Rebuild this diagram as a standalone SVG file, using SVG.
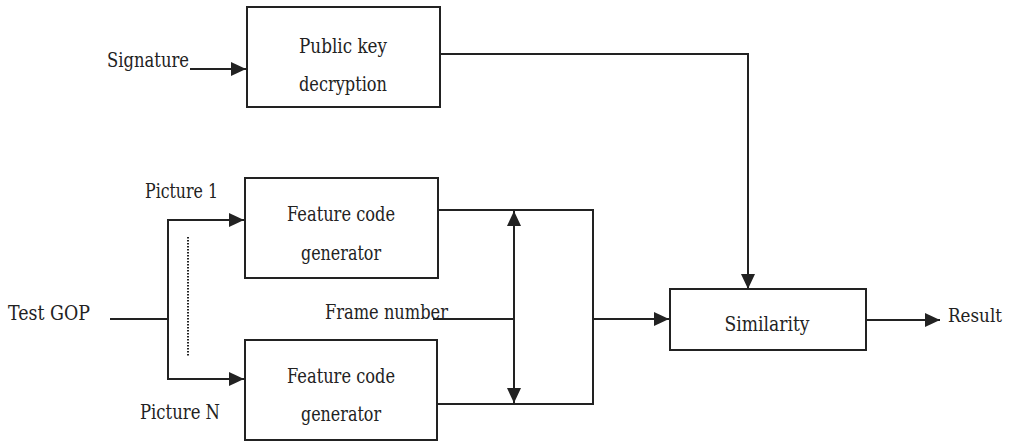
<svg xmlns="http://www.w3.org/2000/svg" width="1011" height="442" viewBox="0 0 1011 442">
<style>
.box{fill:#fff;stroke:#222;stroke-width:2}
.ln{fill:none;stroke:#222;stroke-width:2}
.t{font-family:'DejaVu Serif','Liberation Serif',serif;font-size:20px;fill:#222}
.c{text-anchor:middle}
</style>
<defs>
<marker id="ah" viewBox="0 0 15 14" refX="15" refY="7" markerWidth="15" markerHeight="14" markerUnits="userSpaceOnUse" orient="auto-start-reverse">
<path d="M0,0 L15,7 L0,14 Z" fill="#222"/>
</marker>
</defs>
<rect width="1011" height="442" fill="#fff"/>
<g id="connectors">
<path class="ln" d="M190,69 H246" marker-end="url(#ah)"/>
<path class="ln" d="M440,54 H748 V289" marker-end="url(#ah)"/>
<path class="ln" d="M110,319 H168"/>
<path class="ln" d="M168,219 V380"/>
<path class="ln" d="M168,220 H244" marker-end="url(#ah)"/>
<path class="ln" d="M168,379 H244" marker-end="url(#ah)"/>
<line x1="188" y1="237" x2="188" y2="357" stroke="#222" stroke-width="2" stroke-dasharray="1.5,1.5"/>
<path class="ln" d="M438,210 H593 V404 H437"/>
<path class="ln" d="M514,211 V403" marker-start="url(#ah)" marker-end="url(#ah)"/>
<path class="ln" d="M433,319 H514"/>
<path class="ln" d="M593,319 H669" marker-end="url(#ah)"/>
<path class="ln" d="M866,320 H940" marker-end="url(#ah)"/>
</g>
<g id="signature"><text class="t" x="107" y="67" textLength="82" lengthAdjust="spacingAndGlyphs">Signature</text></g>
<g id="pkd">
<rect class="box" x="247" y="7" width="193" height="100"/>
<text class="t c" x="343" y="53" textLength="88" lengthAdjust="spacingAndGlyphs">Public key</text>
<text class="t c" x="343" y="91" textLength="88" lengthAdjust="spacingAndGlyphs">decryption</text>
</g>
<g id="testgop"><text class="t" x="8" y="320" textLength="82" lengthAdjust="spacingAndGlyphs">Test GOP</text></g>
<g id="pic1"><text class="t" x="145" y="198" textLength="73" lengthAdjust="spacingAndGlyphs">Picture 1</text></g>
<g id="picN"><text class="t" x="140" y="419" textLength="80" lengthAdjust="spacingAndGlyphs">Picture N</text></g>
<g id="fcg1">
<rect class="box" x="245" y="178" width="193" height="100"/>
<text class="t c" x="341" y="221" textLength="108" lengthAdjust="spacingAndGlyphs">Feature code</text>
<text class="t c" x="341" y="260" textLength="80" lengthAdjust="spacingAndGlyphs">generator</text>
</g>
<g id="fcg2">
<rect class="box" x="245" y="340" width="192" height="100"/>
<text class="t c" x="341" y="383" textLength="108" lengthAdjust="spacingAndGlyphs">Feature code</text>
<text class="t c" x="341" y="421" textLength="80" lengthAdjust="spacingAndGlyphs">generator</text>
</g>
<g id="framenum"><text class="t" x="325" y="319" textLength="123" lengthAdjust="spacingAndGlyphs">Frame number</text></g>
<g id="similarity">
<rect class="box" x="670" y="289" width="196" height="61"/>
<text class="t c" x="767" y="331" textLength="85" lengthAdjust="spacingAndGlyphs">Similarity</text>
</g>
<g id="result"><text class="t" x="948" y="322" style="font-size:18px" textLength="54" lengthAdjust="spacingAndGlyphs">Result</text></g>
</svg>
